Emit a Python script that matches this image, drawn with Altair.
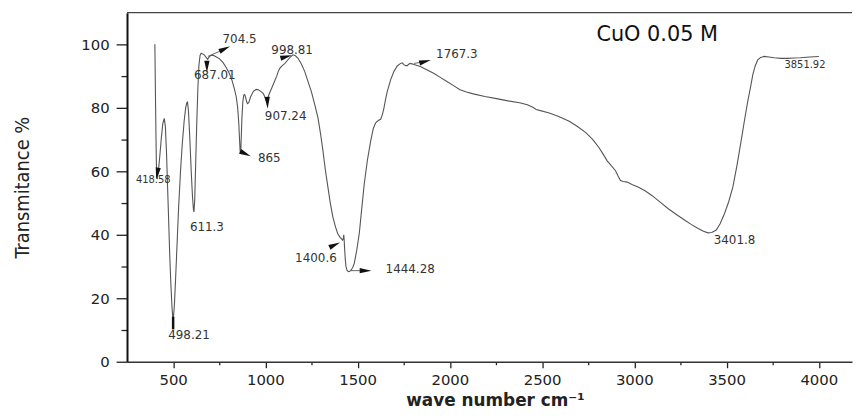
import altair as alt
import pandas as pd

# ---- spectrum ----
wavenumber = [401, 403, 405, 407, 409, 411, 414, 420, 428, 436, 444, 452, 458, 464, 470, 476, 482, 488, 494, 498,
              502, 507, 514, 522, 530, 540, 550, 560, 568, 574, 578, 583, 590, 598, 605, 610, 613, 617, 622, 628,
              634, 640, 646, 652, 660, 670, 680, 687, 694, 704, 715, 730, 750, 770, 790, 805, 820, 832, 842, 850,
              856, 860, 863, 866, 869, 873, 878, 883, 888, 893, 898, 903, 910, 920, 935, 950, 962, 975, 989, 1000,
              1007, 1015, 1025, 1034, 1047, 1061, 1070, 1079, 1090, 1106, 1120, 1135, 1150, 1163, 1177, 1195, 1213,
              1230, 1249, 1267, 1285, 1300, 1312, 1325, 1339, 1352, 1366, 1380, 1392, 1405, 1419, 1423, 1425, 1427,
              1429, 1433, 1437, 1443, 1450, 1458, 1466, 1474, 1482, 1495, 1509, 1522, 1536, 1553, 1571, 1585, 1598,
              1612, 1625, 1635, 1643, 1652, 1661, 1679, 1697, 1715, 1733, 1742, 1751, 1760, 1769, 1778, 1787, 1810,
              1840, 1875, 1912, 1948, 1984, 2020, 2055, 2090, 2127, 2190, 2253, 2315, 2378, 2420, 2450, 2468, 2486,
              2539, 2590, 2647, 2690, 2737, 2775, 2808, 2830, 2853, 2875, 2898, 2912, 2925, 2940, 2961, 2990, 3023,
              3060, 3095, 3140, 3184, 3230, 3274, 3310, 3346, 3375, 3399, 3420, 3444, 3465, 3489, 3512, 3534, 3557,
              3579, 3597, 3615, 3630, 3642, 3655, 3669, 3685, 3704, 3730, 3758, 3795, 3830, 3865, 3901, 3950, 4000]
transmittance = [100, 90, 80, 71, 63, 59, 57.5, 60, 65, 70.5, 75, 76.7, 74, 66, 55, 44, 33, 24, 17, 14,
                 14.3, 18, 27, 38, 49, 60, 69, 76, 80, 81.6, 81.8, 79, 71, 60, 52, 48, 47.2, 51, 62, 75,
                 86, 93.5, 96.5, 97.2, 97, 96.6, 95.8, 95.3, 95.9, 96.5, 96.6, 96.2, 95.5, 94.3, 92.5, 90.8, 88.5, 86, 83.5, 80,
                 75, 70, 66.5, 65.5, 70, 77, 82, 84, 84.2, 83.3, 82, 81.3, 81.6, 83.5, 85.2, 85.8, 85.7, 85.2, 84.5, 83,
                 82.1, 83.5, 85, 86.2, 88, 89.9, 91.5, 92.5, 93.2, 94, 95, 96, 96.7, 96.4, 95.6, 93.8, 91.5,
                 88.5, 85.2, 81.2, 76.9, 71.5, 66.5, 60.5, 55, 50, 45.6, 42.5, 40.4, 39.2, 38.3, 39, 40, 38.5,
                 36.2, 32.5, 30, 28.8, 28.4, 28.5, 29, 29.8, 31, 35, 40.4, 48, 56, 63.5, 69.6, 73.5, 75.3,
                 76, 76.4, 78, 80, 82.8, 85.2, 88.8, 91.5, 93.2, 94, 94.2, 93.6, 93.3, 93.3, 93.8, 94, 93.6,
                 93, 92, 90.9, 89.6, 88.3, 87, 85.7, 85, 84.4, 83.6, 82.9, 82.2, 81.6, 81, 80.2, 79.5, 79.2,
                 78.4, 77.3, 75.8, 74.2, 72.2, 70, 67.5, 65.5, 63.3, 61.8, 60.2, 58.5, 57.1, 56.8, 56.6, 55.8, 55,
                 53.8, 52.4, 50.3, 48.2, 46.3, 44.6, 43.2, 42, 41.1, 40.6, 40.7, 41.5, 43.5, 46.7, 50.5, 55, 62,
                 69.6, 76, 82.1, 86.5, 90.4, 93.2, 95.1, 95.9, 96.2, 96, 95.8, 95.6, 95.6, 95.7, 95.8, 96, 96.2]

# ---- peak labels ----
label_text = ["418.58", "498.21", "611.3", "687.01", "704.5", "907.24", "865", "998.81",
              "1400.6", "1444.28", "1767.3", "3401.8", "3851.92"]
label_x = [392, 586, 683, 726, 860, 1110, 1021, 1145, 1274, 1785, 2038, 3543, 3925]
label_y = [57.1, 8.3, 42.6, 90.2, 101.8, 77.4, 64.3, 98.2, 32.6, 29.1, 96.8, 38.3, 93.4]
label_size = [10, 12, 12, 12, 12, 12, 12, 12, 12, 12, 12, 12, 10]

# ---- arrow heads ----
arrow_x = [414, 683, 780, 1011, 892, 1113, 1376, 1543, 1866]
arrow_y = [59.3, 93, 98.6, 81.6, 65.5, 96.1, 36.8, 28.7, 94.6]
arrow_angle = [100, 90, 335, 88, 25, 345, 335, 0, 345]

# ---- arrow stems ----
stem_x = [688, 1462, 1806, 864]
stem_x2 = [775, 1535, 1860, 885]
stem_y = [96.2, 28.7, 94.0, 66.2]
stem_y2 = [98.4, 28.7, 94.5, 65.7]

# marker under the 498.21 minimum
bar_x = [500]
bar_y = [14.2]
bar_y2 = [10.2]

sample_title = ["CuO 0.05 M"]
title_x = [3124]
title_y = [103]

top_y = [110]

x_ticks = list(range(500, 4001, 250))
y_ticks = list(range(0, 101, 10))

spec = pd.DataFrame({"wn": wavenumber, "t": transmittance})
labels = pd.DataFrame({"wn": label_x, "t": label_y, "txt": label_text, "sz": label_size})
arrows = pd.DataFrame({"wn": arrow_x, "t": arrow_y, "ang": arrow_angle})
stems = pd.DataFrame({"wn": stem_x, "wn2": stem_x2, "t": stem_y, "t2": stem_y2})
bars = pd.DataFrame({"wn": bar_x, "t": bar_y, "t2": bar_y2})
titles = pd.DataFrame({"wn": title_x, "t": title_y, "txt": sample_title})
tops = pd.DataFrame({"t": top_y})

xscale = alt.Scale(domain=[250, 4180], nice=False, zero=False)
yscale = alt.Scale(domain=[0, 110], nice=False, zero=False)

x_axis = alt.Axis(
    values=x_ticks, format="d",
    labelExpr="datum.value % 500 === 0 ? datum.label : ''",
    labelOverlap=False, labelFlush=False,
    tickSize={"condition": {"test": "datum.value % 500 === 0", "value": 6}, "value": 3},
    tickColor="#222", tickWidth=1.3, domainColor="#333", domainWidth=1.5,
    labelFont="DejaVu Sans", labelFontSize=15, labelColor="#222", labelPadding=5,
    title="wave number cm\u207b\u00b9", titleFont="DejaVu Sans", titleFontSize=17,
    titleFontWeight="bold", titleColor="#222", titleX=371, titleY=44,
    titleAlign="center", titleBaseline="alphabetic",
)
y_axis = alt.Axis(
    values=y_ticks, format="d",
    labelExpr="datum.value % 20 === 0 ? datum.label : ''",
    labelOverlap=False, labelFlush=False,
    tickSize={"condition": {"test": "datum.value % 20 === 0", "value": 11}, "value": 6},
    tickColor="#222", tickWidth=1.3, domainColor="#111", domainWidth=2,
    labelFont="DejaVu Sans", labelFontSize=15, labelColor="#222", labelPadding=7,
    title="Transmitance %", titleFont="Liberation Sans Narrow, DejaVu Sans Condensed, Liberation Sans",
    titleFontSize=20, titleFontWeight="normal", titleColor="#222",
    titleAngle=270, titleX=-105, titleY=176, titleAlign="center", titleBaseline="middle",
)

X = alt.X("wn:Q", scale=xscale, axis=x_axis)
Y = alt.Y("t:Q", scale=yscale, axis=y_axis)

line = alt.Chart(spec).mark_line(color="#555", strokeWidth=1.1).encode(x=X, y=Y)

top_rule = alt.Chart(tops).mark_rule(color="#444", strokeWidth=1.5).encode(y=Y)

stem_layer = alt.Chart(stems).mark_rule(color="#666", strokeWidth=1).encode(
    x=X, x2="wn2:Q", y=Y, y2="t2:Q",
)

bar_layer = alt.Chart(bars).mark_rule(color="#111", strokeWidth=2.5).encode(
    x=X, y=Y, y2="t2:Q",
)

arrow_layer = alt.Chart(arrows).mark_point(
    shape="M1,0L-1,-0.45L-1,0.45Z", filled=True, color="#111", opacity=1, size=140
).encode(
    x=X, y=Y,
    angle=alt.Angle("ang:Q", scale=None),
)

label_layer = alt.Chart(labels).mark_text(
    font="DejaVu Sans", color="#333", align="center", baseline="middle"
).encode(
    x=X, y=Y,
    text="txt:N",
    size=alt.Size("sz:Q", scale=None, legend=None),
)

title_layer = alt.Chart(titles).mark_text(
    font="DejaVu Sans", fontSize=21, color="#111", align="center", baseline="middle"
).encode(
    x=X, y=Y,
    text="txt:N",
)

chart = alt.layer(
    line, top_rule, stem_layer, bar_layer, arrow_layer, label_layer, title_layer
).properties(
    width=731, height=352,
    autosize=alt.AutoSizeParams(type="none"),
    padding={"left": 120, "top": 3, "right": 1, "bottom": 48},
).configure_view(stroke=None).configure_axis(grid=False)

chart.save("out.html", embed_options={"renderer": "svg", "actions": False})
